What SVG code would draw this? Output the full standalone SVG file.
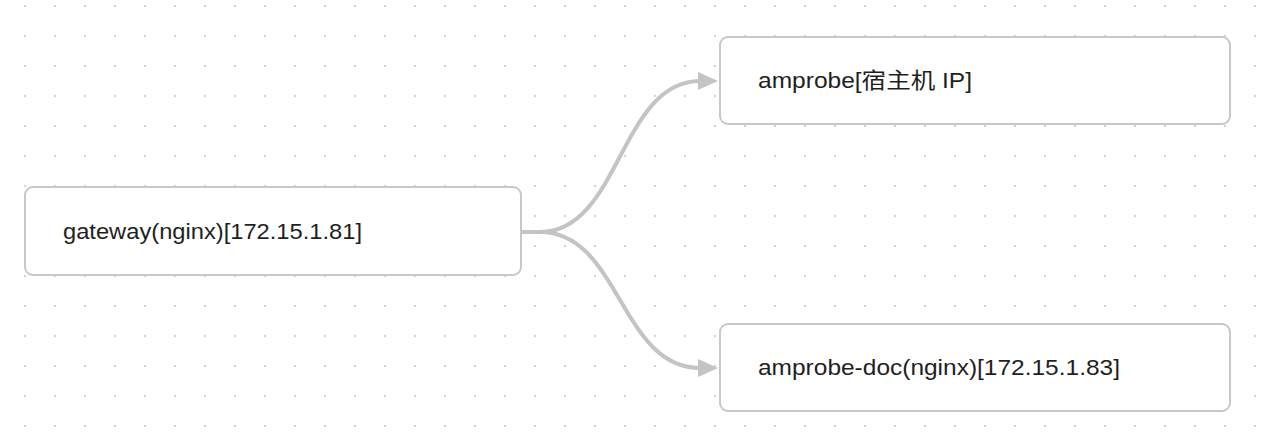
<svg xmlns="http://www.w3.org/2000/svg" width="1266" height="440" viewBox="0 0 1266 440">
  <defs>
    <pattern id="dots" patternUnits="userSpaceOnUse" width="30" height="30">
      <circle cx="25" cy="6" r="1.2" fill="#d4d4d4"/>
    </pattern>
    <marker id="arrow" viewBox="0 0 20 18" refX="2" refY="9" markerWidth="20" markerHeight="18" markerUnits="userSpaceOnUse" orient="auto">
      <path d="M0,0 L20,9 L0,18 Z" fill="#c4c4c4"/>
    </marker>
    <style>
      .node rect { fill: #ffffff; stroke: #c8c8c8; stroke-width: 2; }
      .node text { font-family: "Liberation Sans", "Noto Sans CJK SC", sans-serif; font-size: 22px; fill: #1f1f1f; }
      .edge { fill: none; stroke: #c4c4c4; stroke-width: 4; }
    </style>
  </defs>
  <rect x="0" y="0" width="1266" height="440" fill="#ffffff"/>
  <rect x="0" y="0" width="1266" height="440" fill="url(#dots)"/>

  <g id="connectors">
    <path class="edge" d="M521,232 L540,232 C620,232 620,81 700,81" marker-end="url(#arrow)"/>
    <path class="edge" d="M521,232 L540,232 C620,232 620,368 700,368" marker-end="url(#arrow)"/>
  </g>

  <g id="node-gateway" class="node">
    <rect x="25" y="187" width="496" height="88" rx="8"/>
    <text x="63" y="239" textLength="299" lengthAdjust="spacingAndGlyphs">gateway(nginx)[172.15.1.81]</text>
  </g>
  <g id="node-amprobe" class="node">
    <rect x="720" y="37" width="510" height="87" rx="8"/>
    <text x="758" y="88" textLength="214" lengthAdjust="spacingAndGlyphs">amprobe[宿主机 IP]</text>
  </g>
  <g id="node-amprobe-doc" class="node">
    <rect x="720" y="324" width="510" height="87" rx="8"/>
    <text x="758" y="375" textLength="362" lengthAdjust="spacingAndGlyphs">amprobe-doc(nginx)[172.15.1.83]</text>
  </g>
</svg>
